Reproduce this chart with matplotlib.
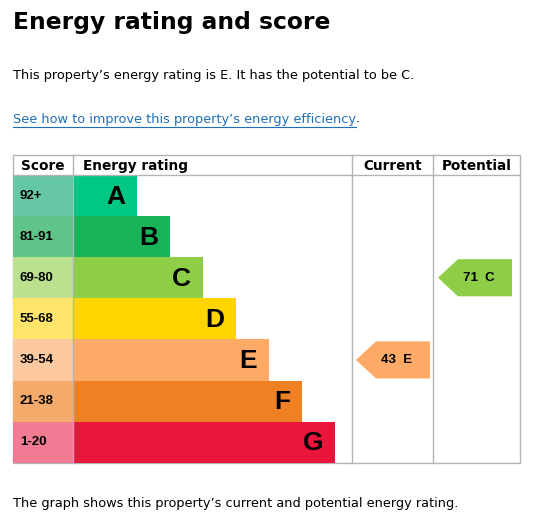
import matplotlib.pyplot as plt
from matplotlib.patches import Polygon, Rectangle

# data
bands = ['A', 'B', 'C', 'D', 'E', 'F', 'G']
score_ranges = ['92+', '81-91', '69-80', '55-68', '39-54', '21-38', '1-20']
band_colors = ['#00c781', '#19b459', '#8dce46', '#ffd500', '#fcaa65', '#ef8023', '#e9153b']
score_colors = ['#66c7a4', '#5fc488', '#bbe08e', '#ffe56a', '#fdc9a0', '#f4aa6b', '#f27a92']
current_score, current_band = 43, 'E'
potential_score, potential_band = 71, 'C'

W, H = 533, 524
fig = plt.figure(figsize=(W / 100, H / 100), dpi=100)
ax = fig.add_axes([0, 0, 1, 1])
ax.set_xlim(0, W)
ax.set_ylim(H, 0)
ax.axis('off')

font = 'Liberation Sans'
body = 9.3
ax.text(13, 22, 'Energy rating and score', fontsize=16.8, fontweight='bold',
        va='center', family='DejaVu Sans')
ax.text(13, 75, 'This property\u2019s energy rating is E. It has the potential to be C.',
        fontsize=body, va='center', family='DejaVu Sans')
link = ax.text(13, 119, 'See how to improve this property\u2019s energy efficiency',
               fontsize=body, va='center', color='#1d70b8', family='DejaVu Sans')
fig.canvas.draw()
bb = link.get_window_extent().transformed(ax.transData.inverted())
x_end = max(bb.x0, bb.x1)
ax.plot([13, x_end], [127, 127], color='#1d70b8', lw=0.8)
ax.text(x_end, 119, '.', fontsize=body, va='center', family='DejaVu Sans')
ax.text(13, 503, 'The graph shows this property\u2019s current and potential energy rating.',
        fontsize=body, va='center', family='DejaVu Sans')

# table frame
top, head, row_h = 155, 175, 41.1
left, c1, c2, c3, right = 13, 73, 352, 433, 520
bottom = head + row_h * len(bands)
grid = '#b1b4b6'
ax.add_patch(Rectangle((left, top), right - left, bottom - top, fill=False, ec=grid, lw=1))
ax.plot([left, right], [head, head], color=grid, lw=1)
for x in (c1, c2, c3):
    ax.plot([x, x], [top, bottom], color=grid, lw=1)
hy = (top + head) / 2 + 1
hs = 9.8
ax.text(left + 30, hy, 'Score', ha='center', va='center', fontweight='bold', fontsize=hs, family='DejaVu Sans')
ax.text(c1 + 10, hy, 'Energy rating', va='center', fontweight='bold', fontsize=hs, family='DejaVu Sans')
ax.text((c2 + c3) / 2, hy, 'Current', ha='center', va='center', fontweight='bold', fontsize=hs, family='DejaVu Sans')
ax.text((c3 + right) / 2, hy, 'Potential', ha='center', va='center', fontweight='bold', fontsize=hs, family='DejaVu Sans')

for i, (b, s) in enumerate(zip(bands, score_ranges)):
    y0 = head + i * row_h
    ym = y0 + row_h / 2
    ax.add_patch(Rectangle((left, y0), c1 - left, row_h, color=score_colors[i], lw=0))
    ax.text(left + 7, ym, s, va='center', fontweight='bold', fontsize=9.5, family=font)
    x_bar = 137 + 33 * i
    ax.add_patch(Rectangle((c1, y0), x_bar - c1, row_h, color=band_colors[i], lw=0))
    ax.text(x_bar - 12, ym + 1, b, ha='right', va='center', fontweight='bold', fontsize=19, family=font)


def arrow(x0, x1, band, score):
    i = bands.index(band)
    y0 = head + i * row_h + 2
    y1 = y0 + row_h - 4
    ym = (y0 + y1) / 2
    pts = [(x0, ym), (x0 + 20, y0), (x1, y0), (x1, y1), (x0 + 20, y1)]
    ax.add_patch(Polygon(pts, closed=True, color=band_colors[i], lw=0))
    ax.text((x0 + x1) / 2 + 4, ym, f'{score}  {band}', ha='center', va='center',
            fontweight='bold', fontsize=9.5, family=font)


arrow(356, 430, current_band, current_score)
arrow(438, 512, potential_band, potential_score)

fig.savefig('out.png', dpi=100)
